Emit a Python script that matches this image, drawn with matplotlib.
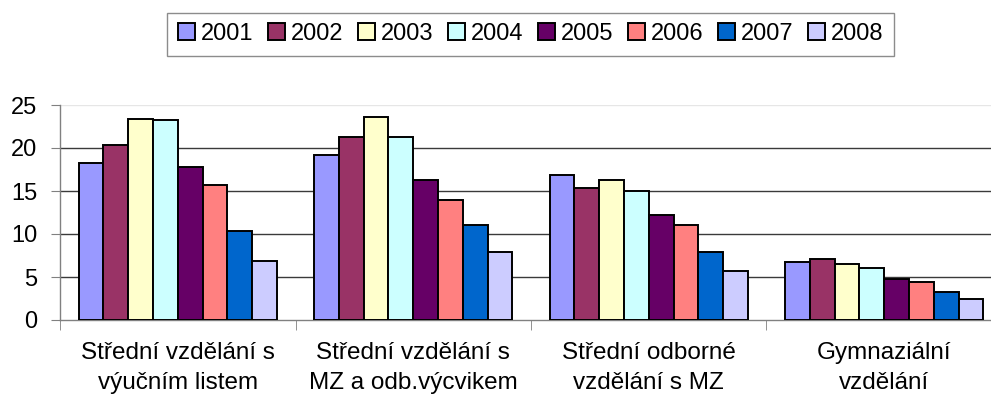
import matplotlib
matplotlib.use("Agg")
import matplotlib.pyplot as plt
import numpy as np

plt.rcParams['font.family'] = ['Liberation Sans', 'DejaVu Sans']

categories = ["Střední vzdělání s\nvýučním listem",
              "Střední vzdělání s\nMZ a odb.výcvikem",
              "Střední odborné\nvzdělání s MZ",
              "Gymnaziální\nvzdělání"]
years = ["2001", "2002", "2003", "2004", "2005", "2006", "2007", "2008"]
v2001 = [18.3, 19.2, 16.9, 6.7]
v2002 = [20.4, 21.3, 15.3, 7.1]
v2003 = [23.4, 23.6, 16.3, 6.5]
v2004 = [23.2, 21.3, 15.0, 6.0]
v2005 = [17.8, 16.3, 12.2, 4.8]
v2006 = [15.7, 13.9, 11.1, 4.4]
v2007 = [10.35, 11.1, 7.9, 3.2]
v2008 = [6.9, 7.9, 5.7, 2.5]
series = [v2001, v2002, v2003, v2004, v2005, v2006, v2007, v2008]
colors = ["#9999FF", "#993366", "#FFFFCC", "#CCFFFF", "#660066", "#FF8080", "#0066CC", "#CCCCFF"]
yticks = [0, 5, 10, 15, 20, 25]

W, H = 991, 404
fig = plt.figure(figsize=(W / 100, H / 100), dpi=100)
ax = fig.add_axes([60 / W, (H - 320) / H, (1002 - 60) / W, (320 - 105) / H])

x = np.arange(len(categories))
w = 1 / 9.5
handles = []
for i, (vals, c, yr) in enumerate(zip(series, colors, years)):
    b = ax.bar(x + (i - 3.5) * w, vals, width=w, color=c, edgecolor="black",
               linewidth=1.4, label=yr, zorder=3)
    handles.append(b)

ax.set_xlim(-0.5, 3.5)
ax.set_ylim(0, 25)
for yv in [5, 10, 15, 20]:
    ax.axhline(yv, color="#3a3a3a", linewidth=1.0, zorder=1)
ax.axhline(25, color="#e6e6e6", linewidth=1.0, zorder=1)

for s in ["top", "right"]:
    ax.spines[s].set_visible(False)
ax.spines["left"].set_color("#808080")
ax.spines["bottom"].set_color("#808080")
ax.spines["left"].set_linewidth(1.0)
ax.spines["bottom"].set_linewidth(1.0)

ax.set_yticks(yticks)
ax.set_yticklabels([str(t) for t in yticks], fontsize=17)
ax.tick_params(axis="y", direction="out", length=6.5, color="#808080", pad=10)

ax.set_xticks(x)
ax.set_xticklabels(categories, fontsize=17.5, linespacing=1.45)
ax.tick_params(axis="x", which="major", length=0, pad=16)
ax.set_xticks([-0.5, 0.5, 1.5, 2.5, 3.5], minor=True)
ax.tick_params(axis="x", which="minor", direction="out", length=7, color="#808080")

leg = fig.legend(handles=handles, labels=years, loc="upper center",
                 bbox_to_anchor=(530.5 / W, 1 - 12.5 / H), ncol=8, fontsize=17,
                 frameon=True, fancybox=False, edgecolor="#707070",
                 handlelength=0.72, handleheight=0.72, handletextpad=0.25,
                 columnspacing=0.62, borderpad=0.45, borderaxespad=0)
leg.get_frame().set_linewidth(1.0)

fig.savefig("out.png", dpi=100)
